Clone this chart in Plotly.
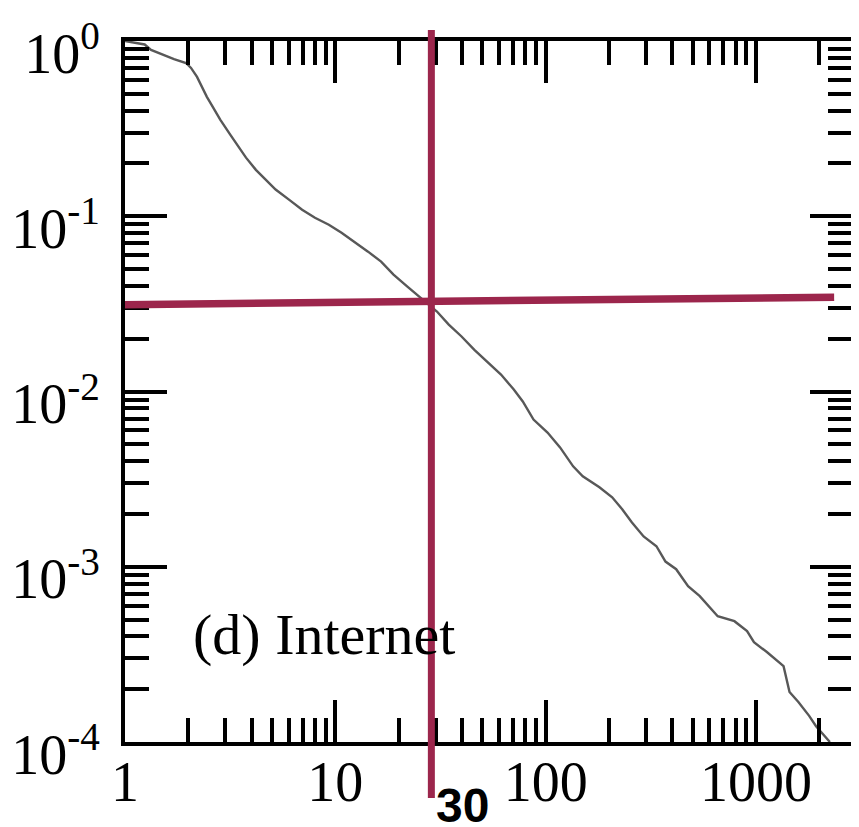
import numpy as np
import plotly.graph_objects as go

# ---- data (log-log CCDF of Internet degree) ----
degree = [1, 1.24, 1.33, 1.49, 1.71, 1.95, 2.06, 2.20, 2.32, 2.45, 2.58, 2.84,
          3.17, 3.45, 3.76, 4.19, 4.67, 5.20, 6.04, 6.95, 8.00, 9.31, 10.7,
          12.3, 14.3, 16.5, 18.9, 22.0, 24.5, 30.4, 34.6, 39.8, 45.8, 53.3,
          61.3, 70.5, 77.8, 87.5, 102, 117, 135, 150, 180, 207, 231, 257, 292,
          336, 371, 417, 475, 540, 603, 657, 789, 906, 977, 1125, 1351, 1396,
          1442, 1589, 1788, 1928, 2148, 2243]
ccdf = [1.0, 0.955, 0.89, 0.843, 0.789, 0.749, 0.702, 0.624, 0.547, 0.480,
        0.432, 0.355, 0.291, 0.249, 0.216, 0.184, 0.161, 0.142, 0.124, 0.109,
        0.098, 0.0895, 0.0805, 0.0716, 0.0628, 0.0551, 0.0464, 0.0397, 0.0357,
        0.0286, 0.0241, 0.0206, 0.0173, 0.0146, 0.0125, 0.01026, 0.00877,
        0.00692, 0.00583, 0.00480, 0.00374, 0.00328, 0.00284, 0.00249, 0.00213,
        0.00179, 0.00149, 0.00131, 0.00107, 0.000968, 0.000774, 0.000679,
        0.000588, 0.000522, 0.000489, 0.000429, 0.000371, 0.000326, 0.000271,
        0.000229, 0.000193, 0.000169, 0.000141, 0.000123, 0.000107, 0.0001]

x_tickvals = [1, 10, 100, 1000]
x_ticktext = ["1", "10", "100", "1000"]
y_tickvals = [1, 0.1, 0.01, 0.001, 0.0001]
y_ticktext = ["10<sup>0</sup>", "10<sup>-1</sup>", "10<sup>-2</sup>",
              "10<sup>-3</sup>", "10<sup>-4</sup>"]

cutoff_x = 28.6          # vertical marker (labelled 30)
cutoff_label = "30"
hline_x = [1, 2350]
hline_y = [0.0313, 0.03455]
panel_label = "(d) Internet"
panel_pos = (2.06, 0.000408)

maroon = "#9c264c"
serif = "Liberation Serif, Times New Roman, serif"

fig = go.Figure()
fig.add_trace(go.Scatter(x=degree, y=ccdf, mode="lines",
                         line=dict(color="#585858", width=2.4),
                         hoverinfo="skip", showlegend=False))

axis_common = dict(
    type="log", showline=True, linecolor="black", linewidth=4,
    mirror="ticks", ticks="inside", ticklen=42, tickwidth=4,
    tickcolor="black", showgrid=False, zeroline=False,
    tickfont=dict(family=serif, size=56, color="black"),
    ticklabeloverflow="allow",
    minor=dict(ticks="inside", ticklen=24, tickwidth=4, tickcolor="black",
               dtick="D1", showgrid=False),
)

fig.update_xaxes(**axis_common, range=[0, 3.456], tickmode="array",
                 tickvals=x_tickvals, ticktext=x_ticktext,
                 ticklabelstandoff=-12)
fig.update_yaxes(**axis_common, range=[-4, 0], tickmode="array",
                 tickvals=y_tickvals, ticktext=y_ticktext,
                 ticklabelstandoff=10, ticklabelshift=12)

# vertical cutoff line (extends past the frame)
fig.add_shape(type="line", xref="x", yref="paper", x0=cutoff_x, x1=cutoff_x,
              y0=-0.08, y1=1.0157, line=dict(color=maroon, width=7),
              layer="above")
# slightly tilted horizontal line
fig.add_shape(type="line", xref="x", yref="y", x0=hline_x[0], y0=hline_y[0],
              x1=hline_x[1], y1=hline_y[1], line=dict(color=maroon, width=7.5),
              layer="above")

fig.add_annotation(x=np.log10(cutoff_x), y=-0.09, xref="x", yref="paper",
                   text="<b>" + cutoff_label + "</b>", showarrow=False,
                   xanchor="left", yanchor="middle", xshift=3,
                   font=dict(family="Liberation Sans, Arial, sans-serif",
                             size=48, color="black"))
fig.add_annotation(x=np.log10(panel_pos[0]), y=np.log10(panel_pos[1]),
                   xref="x", yref="y", text=panel_label, showarrow=False,
                   xanchor="left", yanchor="middle",
                   font=dict(family=serif, size=58, color="black"))

# the page body has an 8px margin; size the figure so the plot lands where
# the reference has it
fig.update_layout(width=851, height=819,
                  margin=dict(l=111, r=3, t=33, b=85, pad=0),
                  paper_bgcolor="white", plot_bgcolor="white",
                  showlegend=False)

fig.write_html("out.html")
